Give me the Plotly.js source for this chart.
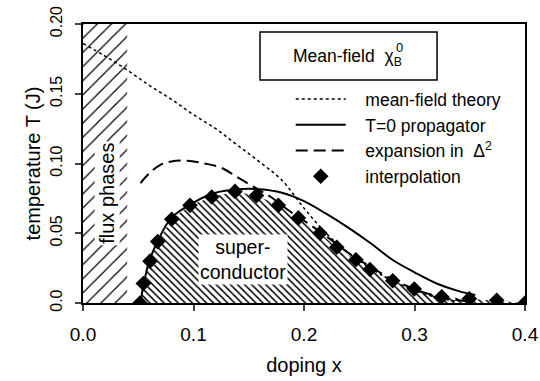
<!DOCTYPE html>
<html><head><meta charset="utf-8">
<script src="https://cdn.plot.ly/plotly-3.0.1.min.js"></script>
<style>html,body{margin:0;padding:0;background:#fff;}#chart{width:540px;height:381px;}</style>
</head><body><div id="chart"></div>
<script>
// mean-field theory (dotted)
var mfX = [0.0, 0.02, 0.04, 0.06, 0.08, 0.10, 0.12, 0.14, 0.16, 0.18, 0.20, 0.22, 0.24, 0.26, 0.28, 0.30, 0.32, 0.34];
var mfY = [0.186, 0.177, 0.167, 0.156, 0.146, 0.135, 0.125, 0.113, 0.101, 0.088, 0.068, 0.050, 0.036, 0.025, 0.016, 0.009, 0.004, 0.001];
// T=0 propagator (solid)
var t0X = [0.052, 0.055, 0.060, 0.068, 0.080, 0.100, 0.120, 0.140, 0.160, 0.180, 0.200, 0.220, 0.240, 0.260, 0.280, 0.300, 0.320, 0.340, 0.355];
var t0Y = [0.000, 0.014, 0.030, 0.045, 0.061, 0.072, 0.079, 0.0815, 0.0815, 0.079, 0.073, 0.064, 0.054, 0.043, 0.031, 0.022, 0.014, 0.0085, 0.0057];
// expansion in Delta^2 (dashed)
var exX = [0.052, 0.060, 0.070, 0.080, 0.094, 0.110, 0.125, 0.140, 0.155, 0.170, 0.185, 0.200, 0.220, 0.240, 0.260, 0.280, 0.300, 0.320, 0.340, 0.350];
var exY = [0.086, 0.093, 0.099, 0.1015, 0.102, 0.100, 0.097, 0.090, 0.083, 0.076, 0.067, 0.059, 0.048, 0.036, 0.026, 0.017, 0.010, 0.005, 0.002, 0.001];
// interpolation (diamonds)
var diX = [0.0516, 0.0546, 0.0606, 0.0676, 0.0803, 0.0968, 0.1165, 0.1376, 0.157, 0.1768, 0.1949, 0.2145, 0.2296, 0.247, 0.2597, 0.2803, 0.2998, 0.3246, 0.3496, 0.3744, 0.400];
var diY = [0.000, 0.014, 0.030, 0.044, 0.060, 0.070, 0.076, 0.080, 0.077, 0.070, 0.061, 0.050, 0.040, 0.031, 0.024, 0.016, 0.010, 0.0045, 0.003, 0.002, 0.000];
// flux phase region
var fluxX = [0.0, 0.04];
var fluxY = [0.2, 0.2];
// ticks
var xTicks = [0, 0.1, 0.2, 0.3, 0.4];
var xTickText = ["0.0", "0.1", "0.2", "0.3", "0.4"];
var yTicks = [0, 0.05, 0.10, 0.15, 0.20];
var yTickText = ["0.0", "0.05", "0.10", "0.15", "0.20"];

var F = "Liberation Sans, Arial, Helvetica, sans-serif";
var pad = "\u00A0\u00A0\u00A0";
var traces = [
  {x: fluxX, y: fluxY, mode: 'lines', line: {width: 0}, fill: 'tozeroy', fillcolor: 'rgba(0,0,0,0)',
   fillpattern: {shape: '/', size: 10, solidity: 0.12, fgcolor: '#000', bgcolor: '#fff'}, showlegend: false, hoverinfo: 'skip'},
  {x: diX, y: diY, mode: 'lines', line: {width: 0}, fill: 'tozeroy', fillcolor: 'rgba(0,0,0,0)',
   fillpattern: {shape: '\\', size: 5, solidity: 0.3, fgcolor: '#000', bgcolor: '#fff'}, showlegend: false, hoverinfo: 'skip'},
  {x: mfX, y: mfY, mode: 'lines', name: pad + 'mean-field theory', line: {color: '#000', width: 1.5, dash: 'dot', shape: 'spline'}},
  {x: t0X, y: t0Y, mode: 'lines', name: pad + 'T=0 propagator', line: {color: '#000', width: 2, shape: 'spline'}},
  {x: exX, y: exY, mode: 'lines', name: pad + 'expansion in  Δ<sup>2</sup>', line: {color: '#000', width: 2, dash: '12px,6px', shape: 'spline'}},
  {x: diX, y: diY, mode: 'markers', name: pad + 'interpolation', marker: {symbol: 'diamond', size: 12, color: '#000'}}
];

var layout = {
  width: 540, height: 381,
  margin: {l: 83, r: 15, t: 24, b: 78},
  paper_bgcolor: '#fff', plot_bgcolor: '#fff',
  font: {family: F, size: 18, color: '#000'},
  showlegend: true,
  legend: {x: 0.47, y: 0.795, xanchor: 'left', yanchor: 'top', bgcolor: 'rgba(0,0,0,0)', borderwidth: 0,
           font: {family: F, size: 17.5}, itemwidth: 50, tracegroupgap: 0},
  xaxis: {range: [0, 0.4], tickvals: xTicks, ticktext: xTickText, ticks: 'outside', ticklen: 6, tickwidth: 2,
          tickfont: {size: 19}, ticklabelstandoff: 7,
          showline: true, linewidth: 2, linecolor: '#000', mirror: true, showgrid: false, zeroline: false,
          title: {text: 'doping x', font: {size: 20}, standoff: 14}, fixedrange: true},
  yaxis: {range: [0, 0.2], tickvals: yTicks, ticktext: yTickText, ticks: 'outside', ticklen: 6, tickwidth: 2,
          tickfont: {size: 16}, ticklabelstandoff: 7,
          tickangle: -90, showline: true, linewidth: 2, linecolor: '#000', mirror: true, showgrid: false, zeroline: false,
          title: {text: 'temperature T (J)', font: {size: 20}, standoff: 2}, fixedrange: true},
  shapes: [
    {type: 'rect', xref: 'paper', yref: 'paper', x0: 0.4005, x1: 0.801, y0: 0.799, y1: 0.971, line: {color: '#000', width: 1.5}, fillcolor: '#fff', layer: 'above'}
  ],
  annotations: [
    {xref: 'paper', yref: 'paper', x: 0.598, y: 0.88, yanchor: 'middle', text: 'Mean-field  χ<sub>B</sub>', showarrow: false, font: {size: 17.5}},
    {xref: 'paper', yref: 'paper', x: 0.728, y: 0.915, yanchor: 'middle', text: '0', showarrow: false, font: {size: 13}},
    {x: 0.0217, y: 0.079, text: 'flux phases', textangle: -90, showarrow: false, font: {size: 20}, bgcolor: '#fff'},
    {x: 0.1448, y: 0.0315, text: 'super-<br>conductor', showarrow: false, font: {size: 19.5}, bgcolor: '#fff'}
  ]
};
Plotly.newPlot('chart', traces, layout, {staticPlot: true, displayModeBar: false});
</script></body></html>
